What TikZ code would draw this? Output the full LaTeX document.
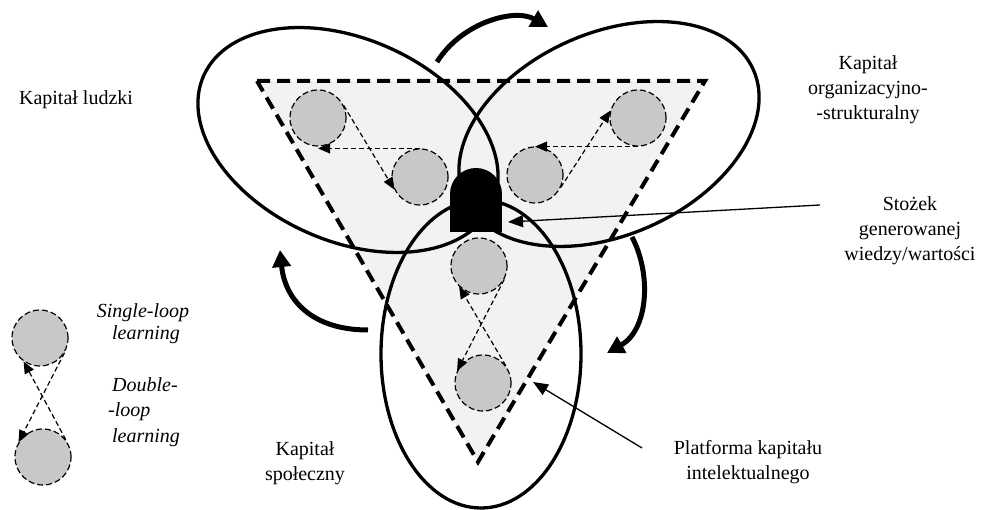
\documentclass[tikz,border=0pt]{standalone}
\usepackage{fontspec}
\setmainfont{Liberation Serif}
\usetikzlibrary{arrows.meta}
\definecolor{trifill}{HTML}{F1F2F4}
\definecolor{circfill}{HTML}{C7C8CA}
\begin{document}
\begin{tikzpicture}[x=1pt,y=-1pt,
  lbl/.style={font=\fontsize{20}{25}\selectfont, align=center, inner sep=0pt},
  ilbl/.style={font=\fontsize{20}{25}\selectfont\itshape, inner sep=0pt},
  lcirc/.style={circle, draw=black, fill=circfill, dash pattern=on 6pt off 3pt, line width=1.2pt, minimum size=56pt, inner sep=0pt},
  ell/.style={line width=3.3pt},
  darr/.style={dash pattern=on 5pt off 3pt, line width=1.2pt, -{Triangle[length=12pt,width=10pt]}},
  bigarr/.style={line width=5pt, -{Triangle[length=17pt,width=18pt]}},
  thinarr/.style={line width=1.3pt, -{Triangle[length=15pt,width=12pt]}}
]
\useasboundingbox (0,0) rectangle (989,510);
% platform triangle
\coordinate (t1) at (257,81);
\coordinate (t2) at (705,81);
\coordinate (t3) at (478,462);
\filldraw[fill=trifill, draw=black, line width=4pt, dash pattern=on 13pt off 7pt] (t1) -- (t2) -- (t3) -- cycle;
% circles
\node[lcirc] (A) at (318,118) {};
\node[lcirc] (B) at (420,177) {};
\node[lcirc] (C) at (638,118) {};
\node[lcirc] (D) at (535,175) {};
\node[lcirc] (E) at (479,266) {};
\node[lcirc] (F) at (483,383) {};
\node[lcirc] (G) at (40,338) {};
\node[lcirc] (H) at (43,457) {};
% ellipses
\draw[ell, rotate around={-24:(348,140)}] (348,140) ellipse [x radius=158, y radius=101];
\draw[ell, rotate around={24:(609,134)}] (609,134) ellipse [x radius=158, y radius=101];
\draw[ell] (481,354) ellipse [x radius=100, y radius=154];
% cone
\fill (476,194) circle [radius=26];
\node[fill=black, minimum width=52pt, minimum height=38pt, inner sep=0pt] (cone) at (476,213) {};
% loop arrows
\draw[darr] (A.26) -- (B.206);
\draw[darr] (B.north) -- (B.north -| A.south);
\draw[darr] (C.south) -- (C.south -| D.north);
\draw[darr] (D.-26) -- (C.165);
\draw[darr] (E.-28) -- (F.155);
\draw[darr] (F.37) -- (E.226);
\draw[darr] (G.-31) -- (H.149);
\draw[darr] (H.37) -- (G.235);
% thick flow arrows
\coordinate (f1a) at (437,62);
\coordinate (f1b) at (548,27);
\coordinate (f2a) at (368,330);
\coordinate (f2b) at (280,250);
\coordinate (f3a) at (632,237);
\coordinate (f3b) at (607,353);
\draw[bigarr] (f1a) .. controls (462,22) and (515,8) .. (f1b);
\draw[bigarr] (f2a) .. controls (312,330) and (285,300) .. (f2b);
\draw[bigarr] (f3a) .. controls (652,275) and (648,330) .. (f3b);
% labels
\node[lbl] (ludzki) at (76,100) {Kapitał ludzki};
\node[lbl] (org) at (868,90) {Kapitał\\organizacyjno-\\-strukturalny};
\node[lbl] (stozek) at (910,231) {Stożek\\generowanej\\wiedzy/wartości};
\node[lbl] (spol) at (305,463) {Kapitał\\społeczny};
\node[lbl] (platf) at (748,462) {Platforma kapitału\\intelektualnego};
\node[ilbl] (sl1) at (143,313) {Single-loop};
\node[ilbl] (sl2) at (146,335) {learning};
\node[ilbl] (dl1) at (145,385) {Double-};
\node[ilbl, anchor=west] (dl2) at (108,412) {-loop};
\node[ilbl] (dl3) at (146,438) {learning};
% pointer arrows
\coordinate (stoA) at (820,205);
\coordinate (stoTip) at (508,222);
\coordinate (plA) at (642,448);
\coordinate (plTip) at (533,382);
\draw[thinarr] (stoA) -- (stoTip);
\draw[thinarr] (plA) -- (plTip);
\end{tikzpicture}
\end{document}
